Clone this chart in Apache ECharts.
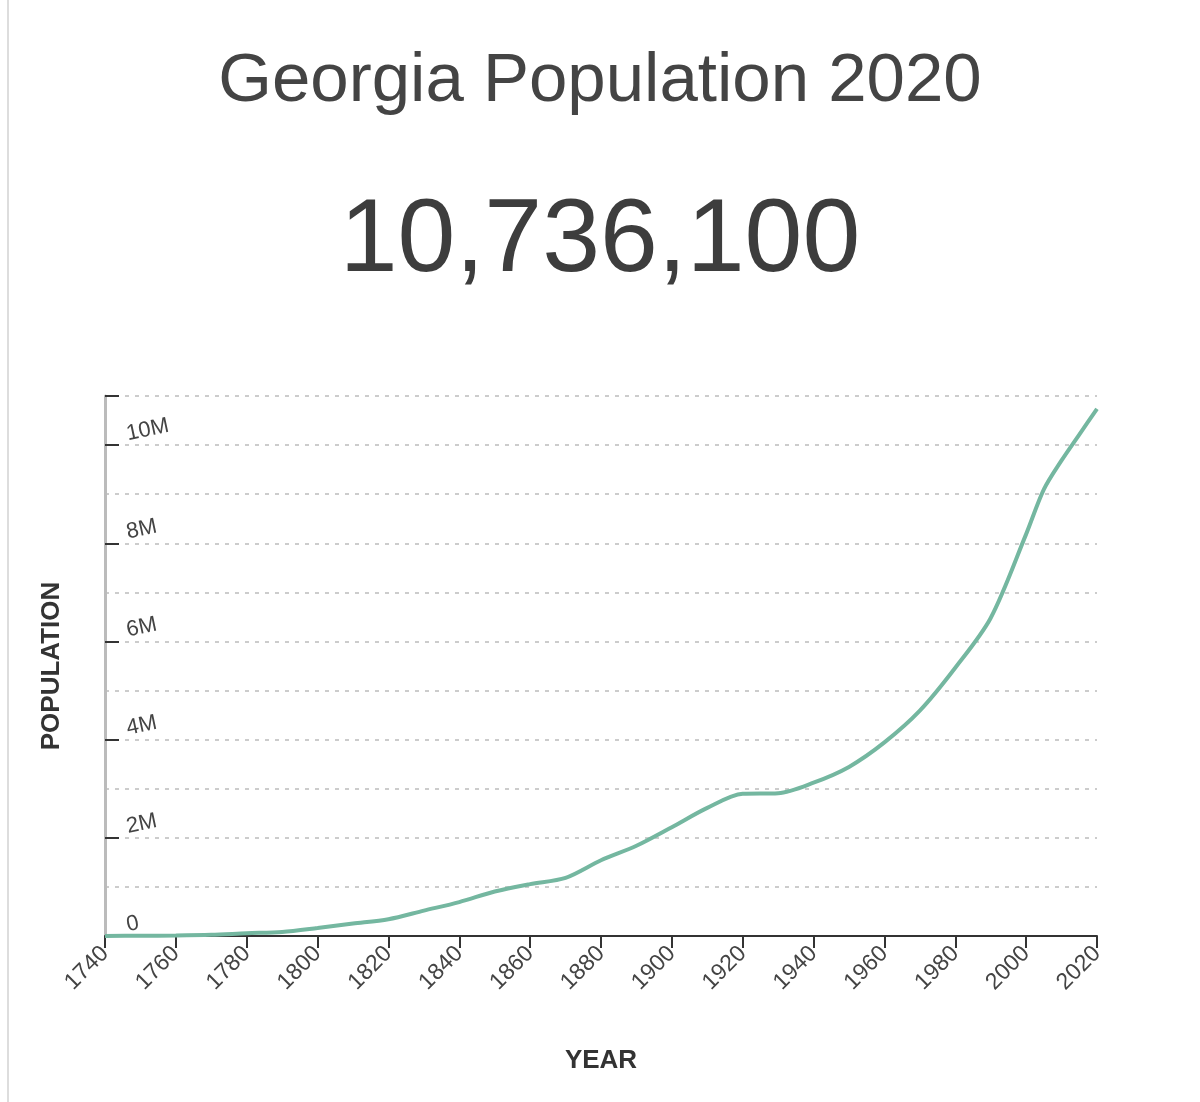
<!DOCTYPE html>
<html><head><meta charset="utf-8">
<script src="https://cdn.jsdelivr.net/npm/echarts@6/dist/echarts.min.js"></script>
<style>html,body{margin:0;background:#fff}#c{width:1200px;height:1102px}</style>
</head><body><div id="c"></div>
<script>
const years = [1740,1750,1760,1770,1780,1790,1800,1810,1820,1830,1840,1850,1860,1870,1880,1890,1900,1910,1920,1930,1940,1950,1960,1970,1980,1990,2000,2005,2010,2015,2020];
const population = [2021,5200,9578,23375,56071,82548,162686,252433,340989,516823,691392,906185,1057286,1184109,1542181,1837353,2216331,2609121,2895832,2908506,3123723,3444578,3943116,4589575,5463105,6478216,8186453,9097428,9687653,10214860,10736100];
const chart = echarts.init(document.getElementById('c'));
chart.setOption({
  animation:false,
  graphic:[
    {type:'text',left:'center',top:47,style:{text:'Georgia Population 2020',font:'69px "Liberation Sans", Arial, sans-serif',fill:'#444'}},
    {type:'text',left:'center',top:190,style:{text:'10,736,100',font:'104px "Liberation Sans", Arial, sans-serif',fill:'#3d3d3d'}},
    {type:'rect',shape:{x:7,y:0,width:2,height:1102},style:{fill:'#ddd'}}
  ],
  grid:{left:105,right:103,top:396,bottom:166},
  xAxis:{type:'value',min:1740,max:2020,interval:20,
    name:'YEAR',nameLocation:'middle',nameGap:112,nameTextStyle:{fontSize:26,fontWeight:'bold',color:'#333',fontFamily:'Liberation Sans'},
    axisLine:{lineStyle:{color:'#333',width:2}},
    axisTick:{length:12,lineStyle:{color:'#333',width:2}},
    axisLabel:{rotate:45,fontSize:23,color:'#444',margin:14,fontFamily:'Liberation Sans',formatter:v=>String(v)},
    splitLine:{show:false}},
  yAxis:[{type:'value',min:0,max:11000000,interval:1000000,
    name:'POPULATION',nameLocation:'middle',nameGap:40,nameTextStyle:{fontSize:26,fontWeight:'bold',color:'#333',fontFamily:'Liberation Sans'},
    axisLine:{show:true,lineStyle:{color:'#bbb',width:3}},
    axisTick:{show:false},
    axisLabel:{inside:true,rotate:12,fontSize:22,color:'#444',margin:24,verticalAlign:'bottom',align:'left',padding:[0,0,0,0],fontFamily:'Liberation Sans',
      formatter:v=>{const m=v/1e6; if(m>10||m%2) return ''; return m===0?'0':m+'M';}},
    splitLine:{lineStyle:{color:'#ccc',type:[4,6],width:2}}},
   {type:'value',min:0,max:11000000,interval:2000000,position:'left',
    axisLine:{show:false},axisLabel:{show:false},splitLine:{show:false},
    axisTick:{show:true,inside:true,length:14,lineStyle:{color:'#333',width:2}}}],
  series:[{type:'line',data:years.map((y,i)=>[y,population[i]]),smooth:0.3,showSymbol:false,
    lineStyle:{color:'#74b7a0',width:4}}]
});
</script></body></html>
